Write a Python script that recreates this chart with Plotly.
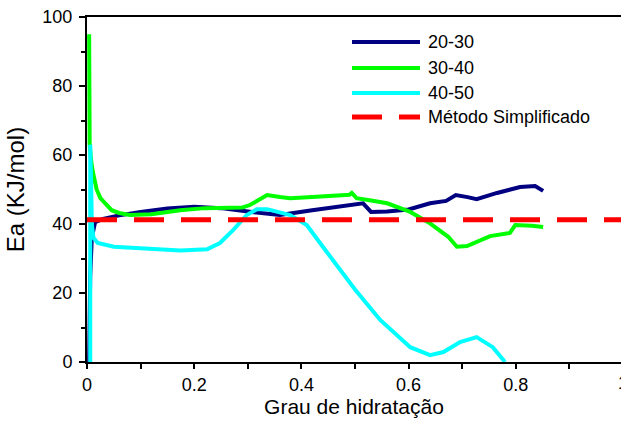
import plotly.graph_objects as go

# Ea vs degree of hydration, three temperature intervals + simplified method
x_20_30 = [0.004, 0.006, 0.009, 0.015, 0.03, 0.06, 0.1, 0.15, 0.2, 0.25, 0.3, 0.36,
           0.42, 0.47, 0.515, 0.53, 0.56, 0.6, 0.64, 0.67, 0.688, 0.71, 0.727,
           0.765, 0.808, 0.836, 0.851]
y_20_30 = [0, 25, 36, 40.5, 41.5, 42.5, 43.5, 44.5, 45, 44.6, 43.6, 42.6,
           44, 45, 46, 43.5, 43.6, 44.2, 46, 46.7, 48.4, 47.8, 47.2,
           49, 50.7, 51, 49.6]

x_30_40 = [0.004, 0.004, 0.005, 0.008, 0.011, 0.018, 0.025, 0.034, 0.046, 0.06, 0.08,
           0.12, 0.174, 0.22, 0.29, 0.304, 0.32, 0.336, 0.36, 0.379, 0.42, 0.466,
           0.49, 0.494, 0.503, 0.53, 0.56, 0.603, 0.64, 0.674, 0.69, 0.709, 0.752,
           0.789, 0.799, 0.83, 0.851]
y_30_40 = [95, 70, 63, 58, 55, 50, 47.5, 46, 44, 43.2, 42.6,
           42.8, 44, 44.6, 44.8, 45.5, 47, 48.4, 47.8, 47.5, 47.8, 48.4,
           48.5, 49, 47.5, 46.8, 46, 43.5, 40.2, 36.3, 33.4, 33.6, 36.5,
           37.4, 39.7, 39.5, 39.1]

x_40_50 = [0.006, 0.006, 0.008, 0.009, 0.012, 0.02, 0.05, 0.1, 0.174, 0.224, 0.248,
           0.273, 0.298, 0.317, 0.336, 0.379, 0.41, 0.44, 0.485, 0.5, 0.547, 0.603,
           0.64, 0.665, 0.696, 0.727, 0.757, 0.78]
y_40_50 = [0, 63, 50, 40, 36, 34.5, 33.4, 33, 32.3, 32.7, 34.5,
           38.3, 42.6, 44.3, 44.3, 42.6, 39.7, 33.4, 24.3, 21, 12.2, 4.3,
           2, 2.9, 5.8, 7.2, 4.3, 0]

x_simpl = [0, 1]
y_simpl = [41.2, 41.2]

series = [
    ("20-30", x_20_30, y_20_30, "#000080", "solid", 4),
    ("30-40", x_30_40, y_30_40, "#00FF00", "solid", 4),
    ("40-50", x_40_50, y_40_50, "#00FFFF", "solid", 4),
    ("Método Simplificado", x_simpl, y_simpl, "#FF0000", "30px,17px", 5),
]

FONT = "Liberation Sans, Arial, sans-serif"
TICK_SIZE = 18
W, H = 621, 423
L, T, B = 87, 17, 61
plot_w = W - L
plot_h = H - T - B
px_per_unit = 536.0  # x-axis pixels per unit of hydration degree

fig = go.Figure()
for name, xs, ys, color, dash, width in series:
    fig.add_trace(go.Scatter(
        x=xs, y=ys, mode="lines", name=name, showlegend=False,
        line=dict(color=color, width=width, dash=dash),
    ))

# Legend drawn as line samples + labels
leg_rows_px = [42, 68, 93, 117]
for (name, _, _, color, dash, width), row in zip(series, leg_rows_px):
    yp = (H - B - row) / plot_h
    fig.add_shape(type="line", xref="paper", yref="paper",
                  x0=(352 - L) / plot_w, x1=(420 - L) / plot_w, y0=yp, y1=yp,
                  line=dict(color=color, width=width, dash=dash))
    fig.add_annotation(text=name, xref="paper", yref="paper",
                       x=(426 - L) / plot_w, y=yp, xanchor="left", yanchor="middle",
                       showarrow=False, font=dict(family=FONT, size=18, color="black"))

# tick label "1" sits right at the edge of the page
fig.add_annotation(text="1", xref="paper", yref="paper",
                   x=px_per_unit / plot_w, y=0, yanchor="top", xanchor="center",
                   yshift=-9, showarrow=False,
                   font=dict(family=FONT, size=TICK_SIZE, color="black"))

fig.update_layout(
    width=W, height=H,
    margin=dict(l=L, r=0, t=T, b=B, pad=0),
    paper_bgcolor="white", plot_bgcolor="white",
    font=dict(family=FONT, size=TICK_SIZE, color="black"),
    xaxis=dict(
        range=[0, plot_w / px_per_unit], tickmode="array",
        tickvals=[0, 0.2, 0.4, 0.6, 0.8], ticktext=["0", "0.2", "0.4", "0.6", "0.8"],
        ticks="outside", ticklen=5, tickwidth=1.5, tickcolor="black",
        minor=dict(dtick=0.1, tick0=0, ticks="outside", ticklen=5, tickwidth=1.5,
                   tickcolor="black"),
        showline=True, linecolor="black", linewidth=2, mirror=True,
        showgrid=False, zeroline=False,
        title=dict(text="Grau de hidratação", font=dict(size=21), standoff=2),
    ),
    yaxis=dict(
        range=[0, 100], dtick=20, tick0=0,
        ticks="outside", ticklen=6, tickwidth=1.5, tickcolor="black",
        ticklabelstandoff=3,
        minor=dict(dtick=10, ticks="outside", ticklen=4, tickwidth=1.5,
                   tickcolor="black"),
        showline=True, linecolor="black", linewidth=2,
        showgrid=False, zeroline=False,
        title=dict(text="Ea (KJ/mol)", font=dict(size=24), standoff=11),
    ),
)

fig.write_html("out.html")
